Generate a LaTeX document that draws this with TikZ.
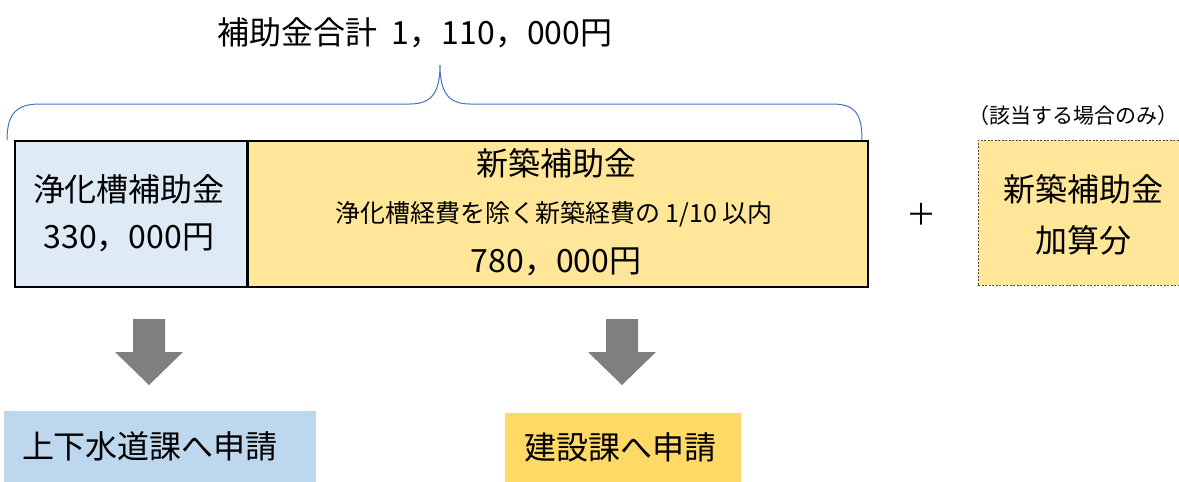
\documentclass[tikz,border=0pt]{standalone}
\usepackage{fontspec}
\setmainfont{Noto Sans CJK JP}
\definecolor{lblue}{HTML}{DEEBF7}
\definecolor{lyellow}{HTML}{FFE699}
\definecolor{mblue}{HTML}{BDD7EE}
\definecolor{myellow}{HTML}{FFD966}
\definecolor{arrgray}{HTML}{7F7F7F}
\definecolor{bracecol}{HTML}{4472C4}
\tikzset{
  mainbox/.style={draw=black, line width=2pt, anchor=north west, inner sep=0pt},
  big/.style={font=\fontsize{32}{38}\selectfont, inner sep=0pt},
  mid/.style={font=\fontsize{25}{30}\selectfont, inner sep=0pt},
  small/.style={font=\fontsize{21}{25}\selectfont, inner sep=0pt},
  destbox/.style={anchor=north west, inner sep=0pt},
}
\begin{document}
\begin{tikzpicture}[x=1pt,y=-1pt]
\useasboundingbox[fill=white] (0,0) rectangle (1179,482);
% title
\node[big] (title) at (415,33) {補助金合計\ \ 1，110，000円};
% brace
\draw[bracecol, line width=1pt] (7,140) .. controls (7,112) and (18,104) .. (40,104) -- (410,104)
  .. controls (432,104) and (440,92) .. (440,65)
  .. controls (440,92) and (448,104) .. (470,104) -- (832,104)
  .. controls (854,104) and (862,112) .. (862,140);
% main boxes
\node[mainbox, fill=lblue, minimum width=232pt, minimum height=146pt] (L) at (14,140) {};
\node[mainbox, fill=lyellow, minimum width=621pt, minimum height=146pt] (R) at (246,140) {};
\draw[black, line width=1pt] (L.north east) -- (L.south east);
\node[big] (Lt1) at (129,189) {浄化槽補助金};
\node[big] (Lt2) at (129,238) {330，000円};
\node[big] (Rt1) at (556,163) {新築補助金};
\node[mid] (Rt2) at (554,214) {浄化槽経費を除く新築経費の 1/10 以内};
\node[big] (Rt3) at (556,262) {780，000円};
% plus
\node[font=\fontsize{30}{36}\selectfont, inner sep=0pt] (plus) at (921,214) {＋};
% optional
\node[small, anchor=east] (note) at (1178.5,116) {（該当する場合のみ）};
\node[destbox, fill=lyellow, draw=black!70, line width=0.8pt, dash pattern=on 2pt off 1.5pt, minimum width=201pt, minimum height=145pt] (opt) at (978,140) {};
\node[big] (Ot1) at (1083,189) {新築補助金};
\node[big] (Ot2) at (1083,240) {加算分};
% arrows
\coordinate (a1) at (149,319);
\coordinate (a2) at (622,319);
\foreach \c in {a1,a2}{
  \fill[arrgray] ([xshift=-16pt]\c) -- ([xshift=16pt]\c) -- ([xshift=16pt,yshift=-33pt]\c)
    -- ([xshift=34pt,yshift=-33pt]\c) -- ([yshift=-66pt]\c) -- ([xshift=-34pt,yshift=-33pt]\c)
    -- ([xshift=-16pt,yshift=-33pt]\c) -- cycle;
}
% destination boxes
\node[destbox, fill=mblue, minimum width=312pt, minimum height=71pt] (D1) at (4,411) {};
\node[big] (D1t) at (150,446) {上下水道課へ申請};
\node[destbox, fill=myellow, minimum width=236pt, minimum height=69pt] (D2) at (505,413) {};
\node[big] (D2t) at (620,447) {建設課へ申請};
\end{tikzpicture}
\end{document}
